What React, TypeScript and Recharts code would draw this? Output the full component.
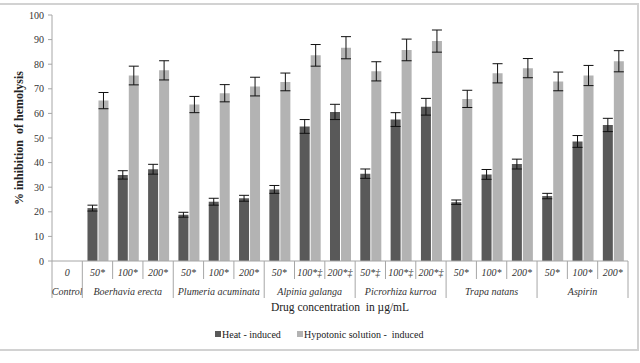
import React from 'react';
import { BarChart, Bar, XAxis, YAxis, ErrorBar } from 'recharts';

const concLabels = ['0', '50*', '100*', '200*', '50*', '100*', '200*', '50*', '100*‡', '200*‡', '50*‡', '100*‡', '200*‡', '50*', '100*', '200*', '50*', '100*', '200*'];
const groupNames = ['Control', 'Boerhavia erecta', 'Plumeria acuminata', 'Alpinia galanga', 'Picrorhiza kurroa', 'Trapa natans', 'Aspirin'];
const groupOf = [0, 1, 1, 1, 2, 2, 2, 3, 3, 3, 4, 4, 4, 5, 5, 5, 6, 6, 6];
const heatValues = [null, 21.5, 35.0, 37.3, 18.8, 24.1, 25.5, 29.1, 54.7, 60.6, 35.5, 57.5, 62.7, 23.9, 35.2, 39.4, 26.4, 48.6, 55.3];
const heatErrors = [0, 1.2, 1.7, 2.0, 1.0, 1.4, 1.2, 1.6, 2.8, 3.1, 1.9, 2.8, 3.4, 0.9, 2.0, 2.0, 1.1, 2.4, 2.7];
const hypoValues = [null, 65.2, 75.4, 77.5, 63.6, 68.2, 70.9, 72.8, 83.6, 86.7, 77.1, 85.8, 89.4, 65.9, 76.3, 78.4, 73.0, 75.4, 81.2];
const hypoErrors = [0, 3.3, 3.8, 3.9, 3.3, 3.5, 3.8, 3.6, 4.4, 4.5, 3.9, 4.4, 4.5, 3.5, 3.9, 3.9, 3.8, 4.1, 4.3];
const yTicks = [0, 10, 20, 30, 40, 50, 60, 70, 80, 90, 100];
const legendNames = ['Heat - induced', 'Hypotonic solution -  induced'];

const data = concLabels.map((c, i) => ({
  idx: i,
  conc: c,
  heat: heatValues[i],
  heatErr: heatErrors[i],
  hypo: hypoValues[i],
  hypoErr: hypoErrors[i],
}));

const DARK = '#595959';
const LIGHT = '#b3b3b3';
const AXIS = '#a6a6a6';
const SERIF = '"Liberation Serif", "Times New Roman", serif';

const PLOT_L = 52;
const PLOT_R = 628;
const AXIS_Y = 261;
const BW = (PLOT_R - PLOT_L) / concLabels.length;

const isGroupStart = (i: number) => i === 0 || groupOf[i] !== groupOf[i - 1];
const isGroupMiddle = (i: number) => {
  const g = groupOf[i];
  const members = groupOf.map((v, k) => (v === g ? k : -1)).filter((k) => k >= 0);
  return members[Math.floor(members.length / 2)] === i;
};

const XTick = (props: any) => {
  const { x, payload } = props;
  const i = payload.index;
  const left = x - BW / 2;
  const right = x + BW / 2;
  const last = i === concLabels.length - 1;
  return (
    <g>
      <line x1={left} x2={left} y1={AXIS_Y} y2={isGroupStart(i) ? 298 : 279} stroke={AXIS} strokeWidth={1} />
      {last && <line x1={right} x2={right} y1={AXIS_Y} y2={298} stroke={AXIS} strokeWidth={1} />}
      <text x={x} y={276} textAnchor="middle" fontFamily={SERIF} fontStyle="italic" fontSize={10} fill="#333">
        {concLabels[i]}
      </text>
      {isGroupMiddle(i) && (
        <text x={x} y={295} textAnchor="middle" fontFamily={SERIF} fontStyle="italic" fontSize={10} fill="#333">
          {groupNames[groupOf[i]]}
        </text>
      )}
    </g>
  );
};

const YTick = (props: any) => {
  const { x, y, payload } = props;
  return (
    <text x={x} y={y} dy={3.5} textAnchor="end" fontFamily={SERIF} fontSize={10} fill="#333">
      {payload.value}
    </text>
  );
};

const YTitle = () => (
  <text
    x={19}
    y={138}
    transform="rotate(-90 19 138)"
    textAnchor="middle"
    dominantBaseline="central"
    fontFamily={SERIF}
    fontWeight="bold"
    fontSize={12}
    fill="#222"
    style={{ whiteSpace: 'pre' }}
  >
    % inhibition  of hemolysis
  </text>
);

const XTitle = () => (
  <text x={340} y={311} textAnchor="middle" fontFamily={SERIF} fontSize={11.5} fill="#222" style={{ whiteSpace: 'pre' }}>
    Drug concentration  in µg/mL
  </text>
);

export default function App() {
  return (
    <div style={{ position: 'absolute', left: 0, top: 0, width: 640, height: 363, background: '#fff' }}>
      <div
        style={{
          position: 'absolute',
          left: -2,
          top: 3,
          width: 639,
          height: 344,
          borderTop: '2px solid #d2d2d2',
          borderRight: '2px solid #d2d2d2',
          borderBottom: '2px solid #d2d2d2',
        }}
      />
      <div style={{ position: 'absolute', left: 0, top: 0 }}>
        <BarChart
          width={640}
          height={363}
          data={data}
          margin={{ top: 15, right: 12, bottom: 42, left: 0 }}
          barCategoryGap="17%"
          barGap={1}
        >
          <XAxis
            dataKey="idx"
            interval={0}
            tickLine={false}
            axisLine={{ stroke: AXIS }}
            tick={<XTick />}
            height={60}
            label={<XTitle />}
          />
          <YAxis
            domain={[0, 100]}
            ticks={yTicks}
            interval={0}
            width={52}
            tickSize={4}
            tickLine={{ stroke: AXIS }}
            axisLine={{ stroke: AXIS }}
            tick={<YTick />}
            tickMargin={4}
            label={<YTitle />}
          />
          <Bar dataKey="heat" fill={DARK} isAnimationActive={false}>
            <ErrorBar dataKey="heatErr" width={5} stroke="#111" strokeWidth={1} direction="y" />
          </Bar>
          <Bar dataKey="hypo" fill={LIGHT} isAnimationActive={false}>
            <ErrorBar dataKey="hypoErr" width={5} stroke="#111" strokeWidth={1} direction="y" />
          </Bar>
        </BarChart>
      </div>
      <svg width={640} height={16} style={{ position: 'absolute', left: 0, top: 326 }}>
        <rect x={215} y={5} width={6} height={6} fill={DARK} />
        <text x={222} y={12} fontFamily={SERIF} fontSize={10} fill="#222">{legendNames[0]}</text>
        <rect x={297} y={5} width={6} height={6} fill={LIGHT} />
        <text x={304} y={12} fontFamily={SERIF} fontSize={10} fill="#222" style={{ whiteSpace: 'pre' }}>
          {legendNames[1]}
        </text>
      </svg>
    </div>
  );
}
